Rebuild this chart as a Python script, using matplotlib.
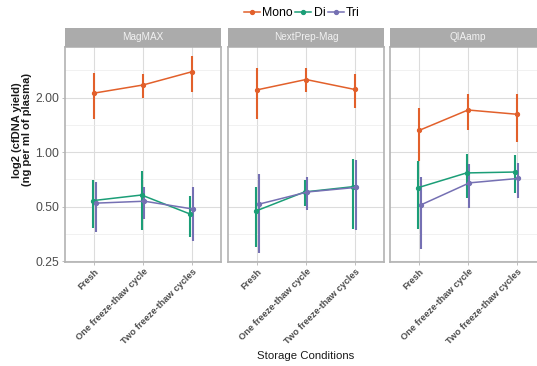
import numpy as np
import matplotlib
matplotlib.use("Agg")
import matplotlib.pyplot as plt
from matplotlib.lines import Line2D
from matplotlib.ticker import FixedLocator, FuncFormatter, NullFormatter

plt.rcParams['font.family'] = ['Liberation Sans', 'DejaVu Sans']

kits = ["MagMAX", "NextPrep-Mag", "QIAamp"]
conditions = ["Fresh", "One freeze-thaw cycle", "Two freeze-thaw cycles"]
fragments = ["Mono", "Di", "Tri"]

# mean and SD per kit (rows) and storage condition (columns)
mono_mean = [[2.12, 2.35, 2.78], [2.21, 2.52, 2.22], [1.32, 1.71, 1.62]]
mono_sd = [[0.60, 0.36, 0.62], [0.69, 0.38, 0.47], [0.43, 0.39, 0.48]]
di_mean = [[0.54, 0.58, 0.455], [0.473, 0.603, 0.645], [0.636, 0.768, 0.777]]
di_sd = [[0.16, 0.21, 0.117], [0.172, 0.099, 0.267], [0.259, 0.209, 0.183]]
tri_mean = [[0.523, 0.536, 0.485], [0.516, 0.603, 0.639], [0.511, 0.677, 0.716]]
tri_sd = [[0.16, 0.107, 0.161], [0.238, 0.126, 0.268], [0.22, 0.183, 0.155]]

y_breaks = [0.25, 0.5, 1.0, 2.0]
y_minor = [0.3536, 0.7071, 1.4142, 2.8284]

colors = {"Mono": "#E2602B", "Di": "#1B9E77", "Tri": "#7570B3"}
dodge = {"Mono": 0.0, "Di": -0.03, "Tri": 0.03}
series = {
    "Mono": (mono_mean, mono_sd),
    "Di": (di_mean, di_sd),
    "Tri": (tri_mean, tri_sd),
}

W, H = 537, 366
fig = plt.figure(figsize=(W / 100, H / 100), dpi=100)

panel_left = [65, 228, 390]
panel_w = 156
panel_top, panel_bot = 47, 261.5
strip_h = 19
border = "#B3B3B3"
tick_col = "#4D4D4D"

x = np.arange(len(conditions))
for k, kit in enumerate(kits):
    px = panel_left[k]
    ax = fig.add_axes([px / W, (H - panel_bot) / H, panel_w / W,
                       (panel_bot - panel_top) / H])
    ax.set_yscale("log", base=2)
    ax.set_ylim(0.249, 3.81)
    ax.set_xlim(-0.6, 2.6)
    ax.yaxis.set_major_locator(FixedLocator(y_breaks))
    ax.yaxis.set_minor_locator(FixedLocator(y_minor))
    ax.yaxis.set_minor_formatter(NullFormatter())
    ax.set_xticks(x)
    ax.grid(True, which="major", color="#DCDCDC", lw=0.8)
    ax.grid(True, which="minor", axis="y", color="#EBEBEB", lw=0.5)
    ax.set_axisbelow(True)
    for s in ax.spines.values():
        s.set_color(border)
        s.set_linewidth(1.2)
    ax.tick_params(axis="both", which="major", length=2.5, width=0.6,
                   color=border, pad=1.5, labelcolor=tick_col)
    ax.tick_params(axis="y", which="minor", length=0)
    if k == 0:
        ax.yaxis.set_major_formatter(FuncFormatter(lambda v, p: f"{v:.2f}"))
        ax.tick_params(axis="y", labelsize=8.8)
    else:
        ax.tick_params(axis="y", labelleft=False, length=0)
    ax.set_xticklabels(conditions, rotation=45, ha="right", va="top",
                       rotation_mode="anchor", fontsize=6.7,
                       fontweight="bold")

    for name in fragments:
        mean = np.array(series[name][0][k])
        sd = np.array(series[name][1][k])
        xs = x + dodge[name]
        ax.errorbar(xs, mean, yerr=sd, color=colors[name], lw=1.1,
                    elinewidth=1.5, capsize=0, marker="o", markersize=2.8,
                    zorder=3)

    sax = fig.add_axes([px / W, (H - panel_top) / H, panel_w / W, strip_h / H])
    sax.set_facecolor("#ABABAB")
    sax.set_xticks([])
    sax.set_yticks([])
    for s in sax.spines.values():
        s.set_visible(False)
    sax.text(0.5, 0.5, kit, ha="center", va="center", color="#F2F2F2",
             fontsize=7.2, transform=sax.transAxes)

fig.text(22 / W, 1 - 130 / H, "log2 (cfDNA yield)\n(ng per ml of plasma)",
         rotation=90, ha="center", va="center", fontsize=8,
         fontweight="bold", color="#1A1A1A", linespacing=1.0)
fig.text(306 / W, 1 - 356 / H, "Storage Conditions", ha="center",
         va="center", fontsize=8.2, color="#1A1A1A")

handles = [Line2D([0], [0], color=colors[n], lw=1.1, marker="o",
                  markersize=2.8) for n in fragments]
fig.legend(handles, fragments, loc="center", bbox_to_anchor=(302 / W, 1 - 13 / H),
           ncol=3, frameon=False, fontsize=8.8, handlelength=1.3,
           handletextpad=0.2, columnspacing=0.2, borderpad=0)

fig.savefig("out.png", dpi=100)
